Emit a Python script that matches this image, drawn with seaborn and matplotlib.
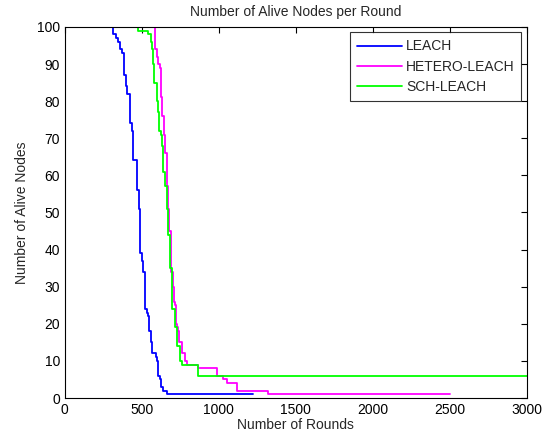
import numpy as np
import pandas as pd
import matplotlib
matplotlib.use('Agg')
import matplotlib.pyplot as plt
import seaborn as sns

# step points: round at which the count changes, and alive nodes from there on
leach_rounds = [0, 314, 330, 346, 361, 372, 383, 394, 405, 422, 426, 437, 444, 467, 480,
                487, 498, 508, 519, 530, 541, 547, 556, 563, 589, 599, 606, 617, 621, 638,
                660, 1220]
leach_alive = [100, 98, 97, 96, 94, 93, 87, 84, 82, 79, 74, 72, 64, 56, 51,
               39, 37, 34, 24, 23, 22, 18, 15, 12, 11, 10, 6, 5, 3, 2,
               1, 1]

hetero_rounds = [0, 584, 600, 606, 617, 621, 632, 645, 649, 660, 667, 671, 677, 686, 688,
                 692, 703, 708, 714, 719, 730, 736, 740, 758, 762, 779, 790, 866, 985, 1028,
                 1050, 1115, 1320, 2500]
hetero_alive = [100, 94, 92, 90, 89, 81, 76, 71, 66, 57, 52, 51, 45, 44, 39,
                34, 30, 26, 25, 20, 19, 18, 15, 14, 12, 10, 9, 8, 6, 5,
                4, 2, 1, 1]

sch_rounds = [0, 476, 541, 556, 563, 570, 574, 578, 595, 606, 610, 621, 628, 638, 649,
              660, 671, 682, 697, 714, 725, 747, 762, 866, 3000]
sch_alive = [100, 99, 98, 96, 94, 92, 90, 85, 80, 77, 72, 71, 68, 61, 57,
             51, 44, 35, 24, 19, 14, 10, 9, 6, 6]

names = ['LEACH', 'HETERO-LEACH', 'SCH-LEACH']
colors = ['#0000ff', '#ff00ff', '#00ff00']

df = pd.concat([
    pd.DataFrame({'round': leach_rounds, 'alive': leach_alive, 'protocol': names[0]}),
    pd.DataFrame({'round': hetero_rounds, 'alive': hetero_alive, 'protocol': names[1]}),
    pd.DataFrame({'round': sch_rounds, 'alive': sch_alive, 'protocol': names[2]}),
])

sns.set_style('white')
plt.rcParams['font.family'] = ['Liberation Sans', 'DejaVu Sans']

fig = plt.figure(figsize=(5.45, 4.41), dpi=100)
ax = fig.add_axes([0.119, 0.0975, 0.848, 0.8415])

sns.lineplot(data=df, x='round', y='alive', hue='protocol', hue_order=names,
             palette=dict(zip(names, colors)), drawstyle='steps-post',
             estimator=None, sort=False, linewidth=1.3, ax=ax)

ax.set_xlim(0, 3000)
ax.set_ylim(0, 100)
ax.set_xticks(np.arange(0, 3001, 500))
ax.set_yticks(np.arange(0, 101, 10))
ax.tick_params(direction='in', top=True, right=True, length=4, width=0.8,
               labelsize=10, colors='black')
for s in ax.spines.values():
    s.set_color('black')
    s.set_linewidth(0.8)

ax.set_title('Number of Alive Nodes per Round', fontsize=10, pad=8)
ax.set_xlabel('Number of Rounds', fontsize=10, labelpad=1)
ax.set_ylabel('Number of Alive Nodes', fontsize=10, labelpad=6)

leg = ax.legend(loc='upper right', fontsize=10, handlelength=3.2, handletextpad=0.3,
                frameon=True, fancybox=False, borderaxespad=0.4, labelspacing=0.45,
                borderpad=0.5)
leg.get_frame().set_edgecolor('black')
leg.get_frame().set_linewidth(0.8)
leg.set_title(None)

fig.savefig('out.png', dpi=100, facecolor='white')
